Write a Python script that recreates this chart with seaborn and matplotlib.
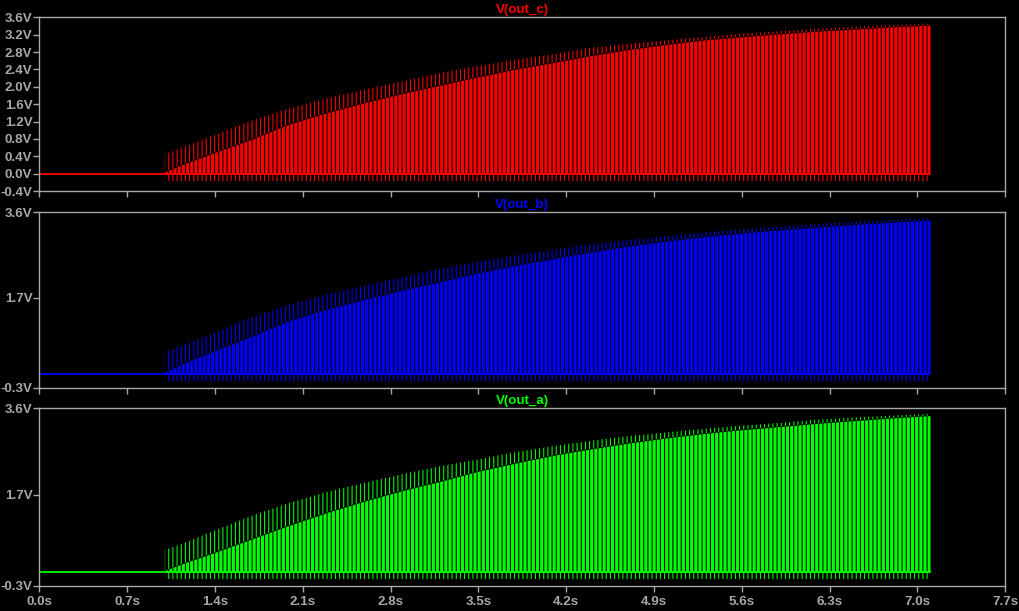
import matplotlib
matplotlib.use("Agg")
import matplotlib.pyplot as plt
import seaborn as sns
import numpy as np

# ---- data (volts vs seconds) ----
t_pts = [1.0, 1.15, 1.4, 1.7, 2.0, 2.3, 2.6, 2.9, 3.2, 3.5, 3.8, 4.1,
         4.4, 4.7, 5.0, 5.3, 5.6, 5.9, 6.2, 6.5, 6.8, 7.1]

# upper envelope (spike tops) and body top for each trace
out_c_top = [0.45, 0.61, 0.89, 1.23, 1.51, 1.74, 1.94, 2.13, 2.32, 2.48, 2.63, 2.75,
             2.90, 2.99, 3.07, 3.15, 3.22, 3.28, 3.34, 3.38, 3.42, 3.46]
out_c_body = [0.04, 0.22, 0.49, 0.80, 1.15, 1.41, 1.64, 1.85, 2.04, 2.23, 2.41, 2.56,
              2.72, 2.86, 2.975, 3.08, 3.15, 3.22, 3.28, 3.33, 3.38, 3.42]
out_b_top = [0.50, 0.64, 0.92, 1.27, 1.55, 1.78, 1.97, 2.16, 2.35, 2.50, 2.64, 2.76,
             2.89, 2.98, 3.07, 3.15, 3.22, 3.28, 3.34, 3.39, 3.43, 3.47]
out_b_body = [0.04, 0.24, 0.52, 0.85, 1.20, 1.45, 1.67, 1.87, 2.06, 2.25, 2.42, 2.57,
              2.72, 2.85, 2.96, 3.06, 3.14, 3.21, 3.27, 3.33, 3.38, 3.43]
out_a_top = [0.49, 0.64, 0.92, 1.25, 1.53, 1.77, 1.97, 2.16, 2.33, 2.48, 2.64, 2.77,
             2.89, 2.99, 3.07, 3.15, 3.22, 3.28, 3.35, 3.40, 3.44, 3.475]
out_a_body = [0.04, 0.20, 0.44, 0.74, 1.04, 1.32, 1.57, 1.80, 2.00, 2.22, 2.40, 2.57,
              2.71, 2.84, 2.95, 3.05, 3.13, 3.20, 3.27, 3.33, 3.39, 3.44]
low_spike = [-0.16, -0.15, -0.15]       # depth of negative spikes per trace
baseline_t = [0.0, 7.1]                  # 0 V trace before/through the burst
baseline_v = [0.0, 0.0]

titles = ["V(out_c)", "V(out_b)", "V(out_a)"]
colors = ["#ff0000", "#0000ff", "#00ff00"]
y_ranges = [(-0.4, 3.6), (-0.3, 3.6), (-0.3, 3.6)]
y_ticks = [[-0.4, 0.0, 0.4, 0.8, 1.2, 1.6, 2.0, 2.4, 2.8, 3.2, 3.6],
           [-0.3, 1.7, 3.6],
           [-0.3, 1.7, 3.6]]
x_ticks = [0.0, 0.7, 1.4, 2.1, 2.8, 3.5, 4.2, 4.9, 5.6, 6.3, 7.0, 7.7]

tops = [out_c_top, out_b_top, out_a_top]
bodies = [out_c_body, out_b_body, out_a_body]

# ---- style ----
sns.set_theme(style="dark")
GREY = "#a8a8a8"
plt.rcParams.update({
    "font.family": ["Liberation Sans", "DejaVu Sans"],
    "font.weight": "bold",
    "figure.facecolor": "black",
    "axes.facecolor": "black",
    "axes.edgecolor": GREY,
    "hatch.linewidth": 0.75,
    "savefig.facecolor": "black",
})

fig = plt.figure(figsize=(10.2, 6.11), dpi=100)
L, W = 39.3 / 1020, (1005.3 - 39.3) / 1020
boxes = [(17.3, 191.0), (212.3, 387.5), (408.3, 586.0)]
HATCH = "||||"
FS = 9.6

for i in range(3):
    top_px, bot_px = boxes[i]
    ax = fig.add_axes([L, 1 - bot_px / 611, W, (bot_px - top_px) / 611])
    c = colors[i]
    t = np.array(t_pts)
    top = np.array(tops[i])
    body = np.array(bodies[i])

    # solid body with thin black gaps
    ax.fill_between(t, 0, body, color=c, lw=0)
    ax.fill_between(t, 0, body, facecolor="none", edgecolor="black", hatch=HATCH, lw=0)
    # thin positive spikes above the body
    ax.fill_between(t, body, top, facecolor="none", edgecolor=c, hatch=HATCH, lw=0)
    # thin negative spikes below 0 V
    ax.fill_between(t, low_spike[i], 0, facecolor="none", edgecolor=c, hatch=HATCH, lw=0)
    # 0 V trace
    sns.lineplot(x=baseline_t, y=baseline_v, ax=ax, color=c, lw=1.3)

    ax.set_xlim(0, 7.7)
    ax.set_ylim(*y_ranges[i])
    ax.set_yticks(y_ticks[i])
    ax.set_yticklabels([f"{v:.1f}V" for v in y_ticks[i]])
    ax.set_xticks(x_ticks)
    if i == 2:
        ax.set_xticklabels([f"{v:.1f}s" for v in x_ticks])
    else:
        ax.set_xticklabels([])
    ax.tick_params(axis="both", direction="out", length=4.5, width=1.0, color=GREY,
                   labelcolor=GREY, labelsize=FS, pad=0.5, bottom=True, left=True)
    ax.tick_params(axis="x", pad=2.5)
    for s in ax.spines.values():
        s.set_visible(True)
        s.set_color(GREY)
        s.set_linewidth(1.0)
    ax.grid(False)
    ax.set_xlabel("")
    ax.set_ylabel("")
    ax.set_title(titles[i], color=c, fontsize=FS, fontweight="bold", pad=3)

fig.savefig("out.png", dpi=100, facecolor="black")
